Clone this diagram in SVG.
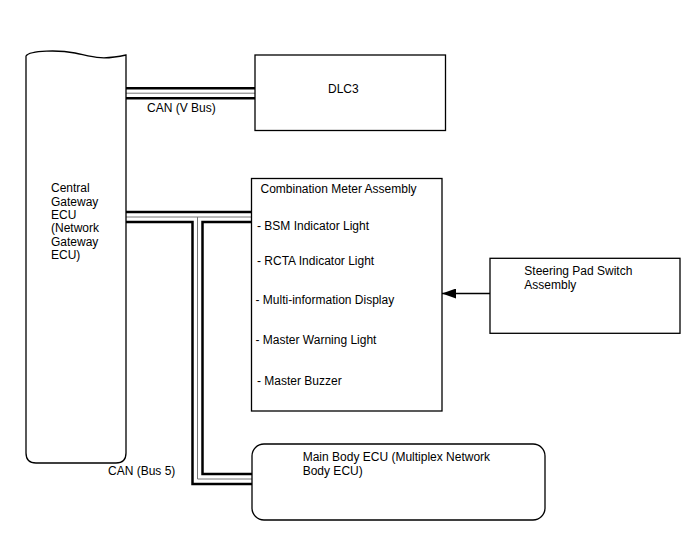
<svg xmlns="http://www.w3.org/2000/svg" width="688" height="560" viewBox="0 0 688 560">
<style>
.box{fill:#fff;stroke:#000;stroke-width:1.3}
.t{font-family:"Liberation Sans",Arial,sans-serif;font-size:12px;fill:#000}
.bo{fill:none;stroke:#000;stroke-width:12.5}
.bw{fill:none;stroke:#fff;stroke-width:7.5}
.bg{fill:none;stroke:#777;stroke-width:1}
.ln{fill:none;stroke:#000;stroke-width:1.3}
</style>
<defs>
<marker id="ah" markerWidth="14" markerHeight="10" refX="14" refY="5" orient="auto" markerUnits="userSpaceOnUse">
<path d="M0,0 L14,5 L0,10 Z" fill="#000"/>
</marker>
</defs>
<rect width="688" height="560" fill="#fff"/>
<g id="connectors">
<path class="bo" d="M126,93.2 H255"/>
<path class="bo" d="M126,217 H251 M197.5,217 V479 H252"/>
<path class="bw" d="M126,93.2 H255"/>
<path class="bw" d="M126,217 H251 M197.5,217 V479 H252"/>
<path class="bg" d="M126,93.2 H255"/>
<path class="bg" d="M126,217 H251 M197.5,217 V479 H252"/>
<path class="ln" d="M490,293.5 H442" marker-end="url(#ah)"/>
<text class="t" x="147" y="112">CAN (V Bus)</text>
<text class="t" x="108" y="474.5">CAN (Bus 5)</text>
</g>
<g id="gateway">
<path class="box" d="M26,56 C30,50 60,50 75,53 C90,56 100,61 126,55 V453 Q126,463 116,463 H36 Q26,463 26,453 Z"/>
<text class="t" x="51" y="192.3">Central</text>
<text class="t" x="51" y="205.7">Gateway</text>
<text class="t" x="51" y="219">ECU</text>
<text class="t" x="51" y="232.3">(Network</text>
<text class="t" x="51" y="245.7">Gateway</text>
<text class="t" x="51" y="259">ECU)</text>
</g>
<g id="dlc3">
<rect class="box" x="255" y="55" width="190.5" height="75.5"/>
<text class="t" x="328" y="93.3">DLC3</text>
</g>
<g id="meter">
<rect class="box" x="251.5" y="178.5" width="190.5" height="232.5"/>
<text class="t" x="260.5" y="192.7">Combination Meter Assembly</text>
<text class="t" x="257" y="230">- BSM Indicator Light</text>
<text class="t" x="257" y="265">- RCTA Indicator Light</text>
<text class="t" x="255.5" y="304.3">- Multi-information Display</text>
<text class="t" x="255.5" y="344">- Master Warning Light</text>
<text class="t" x="257" y="385">- Master Buzzer</text>
</g>
<g id="steering">
<rect class="box" x="490" y="258.3" width="190" height="75"/>
<text class="t" x="524.3" y="275">Steering Pad Switch</text>
<text class="t" x="524.3" y="289.3">Assembly</text>
</g>
<g id="mainbody">
<rect class="box" x="252" y="444" width="293" height="76" rx="12" ry="12"/>
<text class="t" x="302.7" y="460.7">Main Body ECU (Multiplex Network</text>
<text class="t" x="302.7" y="475">Body ECU)</text>
</g>
</svg>
